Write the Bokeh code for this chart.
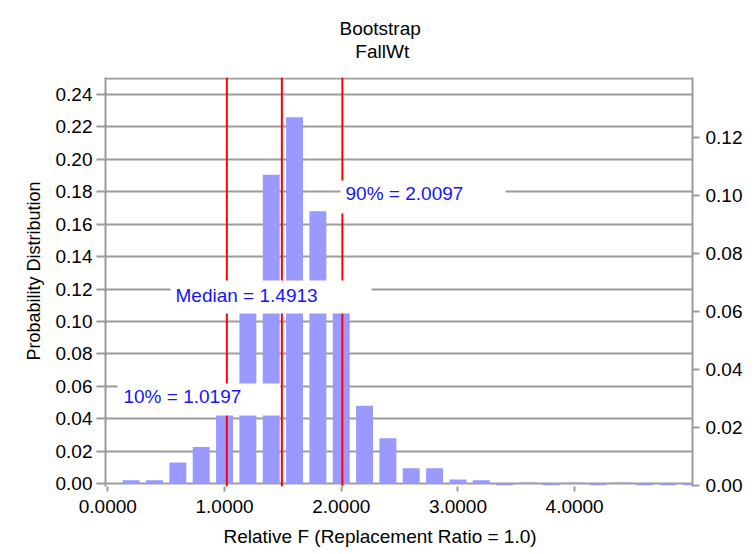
from bokeh.plotting import figure
from bokeh.models import Range1d, LinearAxis, FixedTicker, PrintfTickFormatter, Title
from bokeh.core.properties import value
from bokeh.embed import file_html
from bokeh.resources import INLINE

# ---------------- data ----------------
bin_centers = [0.2, 0.4, 0.6, 0.8, 1.0, 1.2, 1.4, 1.6, 1.8, 2.0, 2.2, 2.4, 2.6,
               2.8, 3.0, 3.2, 3.4, 3.6, 3.8, 4.0, 4.2, 4.4, 4.6, 4.8, 5.0]
probabilities = [0.002, 0.002, 0.013, 0.0225, 0.043, 0.106, 0.1905, 0.226, 0.168,
                 0.106, 0.048, 0.028, 0.0095, 0.0095, 0.0025, 0.002, -0.001, 0.0007,
                 -0.001, 0.0007, -0.001, 0.0007, -0.001, -0.001, -0.001]
percentile_names = ["10%", "Median", "90%"]
percentile_values = [1.0197, 1.4913, 2.0097]

x_ticks = [0, 1, 2, 3, 4]
y_ticks = [0.00, 0.02, 0.04, 0.06, 0.08, 0.10, 0.12, 0.14, 0.16, 0.18, 0.20, 0.22, 0.24]
y2_ticks = [0.00, 0.02, 0.04, 0.06, 0.08, 0.10, 0.12]

title_lines = ["Bootstrap", "FallWt"]
x_label = "Relative F (Replacement Ratio = 1.0)"
y_label = "Probability Distribution"

# ---------------- annotation layout (data units) ----------------
x_lo, x_hi = -0.02, 5.01
y_lo, y_hi = -0.0018, 0.2505
y2_lo, y2_hi = -0.00034, 0.1407
box_left = [0.083, 0.537, 1.994]
box_right = [1.478, 2.259, 3.408]
box_bottom = [0.0420, 0.1049, 0.1666]
box_top = [0.0617, 0.1252, 0.1869]
text_x = [0.134, 0.580, 2.037]
text_y = [0.0537, 0.1158, 0.1791]
label_texts = ["%s = %.4f" % (n, v) for n, v in zip(percentile_names, percentile_values)]

FONT = "Liberation Sans"
GRAY = "#9c9c9c"

p = figure(width=747, height=554, output_backend="svg", toolbar_location=None,
           x_range=Range1d(x_lo, x_hi), y_range=Range1d(y_lo, y_hi),
           min_border_left=105, min_border_right=55, min_border_top=77, min_border_bottom=68)
p.outline_line_color = None
p.background_fill_color = "white"
p.border_fill_color = "white"

p.extra_y_ranges = {"right": Range1d(y2_lo, y2_hi)}

# grid
p.xgrid.grid_line_color = None
p.ygrid.ticker = FixedTicker(ticks=y_ticks + [0.2497])
p.ygrid.grid_line_color = GRAY
p.ygrid.grid_line_width = 2

# bars
p.vbar(x=bin_centers, width=0.145, top=probabilities, bottom=0,
       fill_color="#9999ff", line_color=None)

# percentile lines
p.segment(x0=percentile_values, y0=[y_lo] * 3, x1=percentile_values, y1=[y_hi] * 3,
          line_color="#ff0000", line_width=2)

# label boxes and texts
p.quad(left=box_left, right=box_right, bottom=box_bottom, top=box_top,
       fill_color="white", line_color=None)
p.text(x=text_x, y=text_y, text=label_texts, text_color="#1414ff",
       text_font=value(FONT), text_font_size="19px",
       text_align="left", text_baseline="middle")

# axes
def style_axis(ax, tick_out, standoff):
    ax.axis_line_color = GRAY
    ax.axis_line_width = 2
    ax.major_tick_line_color = GRAY
    ax.major_tick_line_width = 2
    ax.major_tick_out = tick_out
    ax.major_tick_in = 0
    ax.minor_tick_line_color = None
    ax.major_label_text_font = FONT
    ax.major_label_text_font_size = "19px"
    ax.major_label_text_color = "black"
    ax.major_label_standoff = standoff

xa = p.xaxis[0]
xa.ticker = FixedTicker(ticks=x_ticks)
xa.formatter = PrintfTickFormatter(format="%.4f")
style_axis(xa, 5, 8)
xa.axis_line_color = None

ya = p.yaxis[0]
ya.ticker = FixedTicker(ticks=y_ticks)
ya.formatter = PrintfTickFormatter(format="%.2f")
style_axis(ya, 9, 4)

ra = LinearAxis(y_range_name="right", ticker=FixedTicker(ticks=y2_ticks),
                formatter=PrintfTickFormatter(format="%.2f"))
style_axis(ra, 7, 6)
p.add_layout(ra, "right")

# titles
def style_title(t, offset, standoff):
    t.align = "left"
    t.offset = offset
    t.standoff = standoff
    t.text_font = FONT
    t.text_font_size = "19px"
    t.text_font_style = "normal"
    t.text_color = "black"

NBSP = "\u00a0"
p.title.text = title_lines[0] + "\n" + NBSP * 3 + title_lines[1]
style_title(p.title, 234, 30)
p.title.text_line_height = 1.1

t_x = Title(text=x_label)
style_title(t_x, 118, 16)
p.add_layout(t_x, "below")

t_y = Title(text=y_label)
style_title(t_y, 126, 18)
t_y.text_font_size = "18px"
p.add_layout(t_y, "left")

open("out.html", "w").write(file_html(p, INLINE))
